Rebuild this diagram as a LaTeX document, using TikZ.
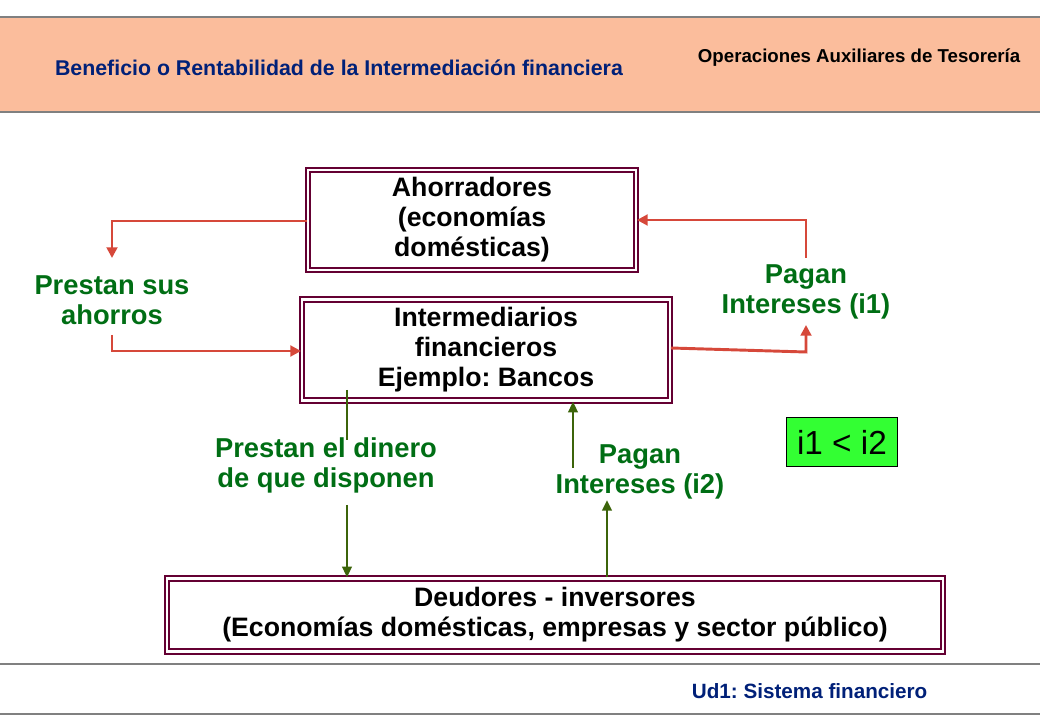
\documentclass[tikz,border=0pt]{standalone}
\usepackage{fontspec}
\setmainfont{Liberation Sans}
\usetikzlibrary{arrows.meta, positioning}
\definecolor{maroonbox}{RGB}{100,0,50}
\definecolor{redarrow}{RGB}{214,72,58}
\definecolor{greenarrow}{RGB}{60,100,10}
\definecolor{greentext}{RGB}{0,110,20}
\definecolor{peach}{RGB}{251,189,156}
\definecolor{navy}{RGB}{0,32,120}
\frenchspacing
\begin{document}
\begin{tikzpicture}[
    x=0.75pt, y=-0.75pt,
    actor/.style={rectangle, draw=maroonbox, line width=1.4pt, double=white, double distance=2pt, fill=white, align=center, font=\bfseries\fontsize{20}{22.5}\selectfont, inner sep=0pt},
    label/.style={align=center, text=greentext, font=\bfseries\fontsize{20.5}{22.5}\selectfont},
    redarrow/.style={-{Triangle[length=8pt, width=8pt]}, draw=redarrow, line width=2.2pt},
    greenarrow/.style={-{Triangle[length=8pt, width=7pt]}, draw=greenarrow, line width=2pt},
    greenline/.style={draw=greenarrow, line width=2pt}
]
\useasboundingbox (0,0) rectangle (1040,720);

% cabecera
\fill[peach] (0,17) rectangle (1040,112);
\draw[gray, line width=1pt] (0,17) -- (1040,17);
\draw[gray, line width=1pt] (0,112) -- (1040,112);
\node[text=navy, font=\bfseries\fontsize{16}{18}\selectfont] (title) at (339,68) {Beneficio o Rentabilidad de la Intermediación financiera};
\node[text=black, font=\bfseries\fontsize{14}{16}\selectfont, anchor=east] (subject) at (1025,58) {Operaciones Auxiliares de Tesorería};

% cajas
\node[actor, minimum width=246pt, minimum height=75pt] (savers) at (472,220) {Ahorradores\\(economías\\domésticas)};
\node[actor, minimum width=276pt, minimum height=76pt] (banks) at (486,350) {Intermediarios\\financieros\\Ejemplo: Bancos};
\node[actor, minimum width=582pt, minimum height=55pt] (debtors) at (555,615) {Deudores - inversores\\(Economías domésticas, empresas y sector público)};
\node[draw=black, fill=green!100!cyan!80, line width=0.8pt, minimum width=83pt, minimum height=37pt, font=\fontsize{25}{28}\selectfont] (rates) at (842,442) {i1 < i2};

% etiquetas
\node[label] (lend) at (112,300) {Prestan sus\\ahorros};
\node[label] (pay1) at (806,292) {Pagan\\Intereses (i1)};
\node[label] (credit) at (326,465) {Prestan el dinero\\de que disponen};
\node[label] (pay2) at (640,472) {Pagan\\Intereses (i2)};

% puntos libres
\coordinate (lendtop) at (112,258);
\coordinate (lendbot) at (112,335);
\coordinate (pay1bot) at (806,325);
\coordinate (pay1top) at (806,258);
\coordinate (credittop) at (347,440);
\coordinate (creditstart) at (347,390);
\coordinate (creditbot) at (347,505);
\coordinate (pay2top) at (573,468);
\coordinate (pay2bot) at (607,500);

% flechas
\draw[redarrow] (savers.west |- 0,221) -| (lendtop);
\draw[redarrow] (lendbot) |- (banks.west |- 0,351);
\draw[redarrow] (banks.east |- 0,348) -- (806,352) -- (pay1bot);
\draw[redarrow] (pay1top) |- (savers.east);
\draw[greenline] (creditstart) -- (credittop);
\draw[greenarrow] (creditbot) -- (creditbot |- debtors.north);
\draw[greenarrow] (pay2top) -- (pay2top |- banks.south);
\draw[greenarrow] (pay2bot |- debtors.north) -- (pay2bot);

% pie
\draw[gray, line width=1.5pt] (0,664) -- (1040,664);
\draw[gray, line width=1.5pt] (0,714) -- (1040,714);
\node[text=navy, font=\bfseries\fontsize{15.5}{18}\selectfont, anchor=east] (unit) at (932,691) {Ud1: Sistema financiero};
\end{tikzpicture}
\end{document}
